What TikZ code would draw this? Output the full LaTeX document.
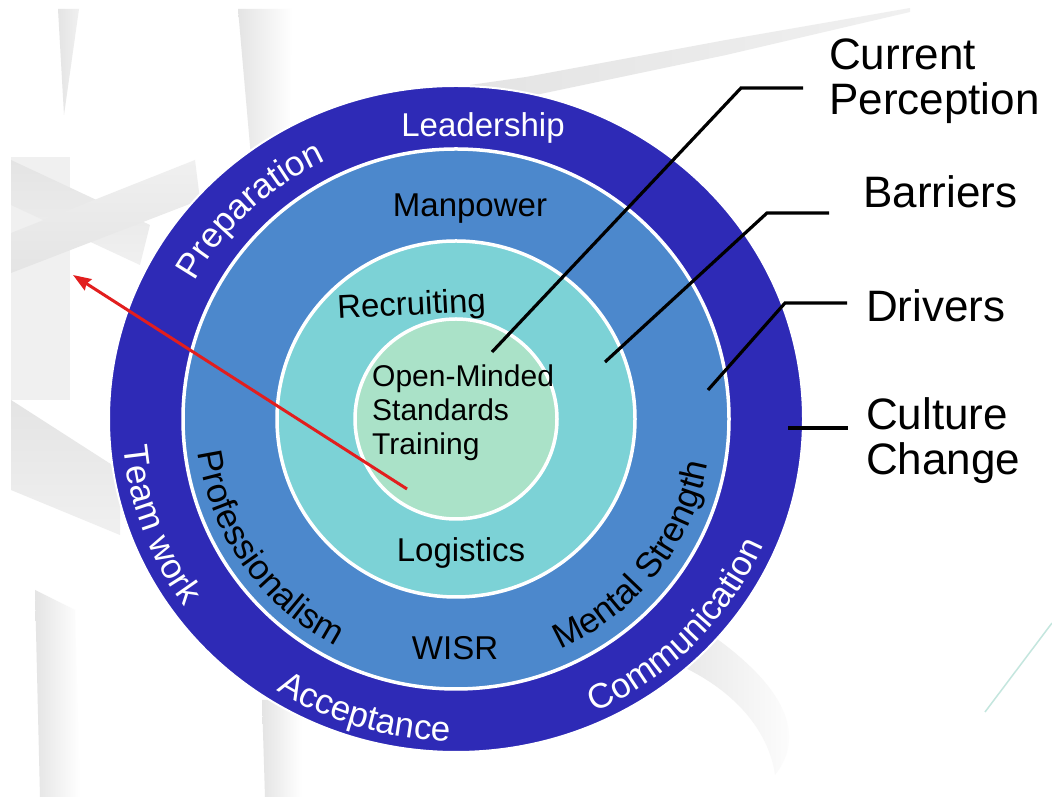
\documentclass[tikz,border=0pt]{standalone}
\usepackage{fontspec}
\setmainfont{Liberation Sans}
\usetikzlibrary{decorations.text,arrows.meta,shapes.geometric}
\definecolor{ringA}{RGB}{46,42,182}
\definecolor{ringB}{RGB}{76,136,204}
\definecolor{ringC}{RGB}{124,210,214}
\definecolor{ringD}{RGB}{170,226,200}
\definecolor{arrowred}{RGB}{226,30,30}
\definecolor{bgA}{RGB}{228,228,228}
\definecolor{bgB}{RGB}{240,240,240}
\definecolor{tealline}{RGB}{196,230,222}
\newcommand\ringfont{\fontsize{33}{33}\selectfont}
\newcommand\arcfont{\fontsize{35}{35}\selectfont}
\newcommand\corefont{\fontsize{30}{34}\selectfont}
\newcommand\sidefont{\fontsize{44}{45}\selectfont}
\begin{document}
\begin{tikzpicture}[x=1pt,y=1pt,
  ringshape/.style={ellipse, draw=white, line width=3.5pt, inner sep=0pt},
  leader/.style={draw=black, line width=3.2pt},
  ringlabel/.style={font=\ringfont, anchor=base, inner sep=0pt},
  corelabel/.style={font=\corefont, anchor=base west, inner sep=0pt},
  sidelabel/.style={font=\sidefont, anchor=base west, inner sep=0pt},
  redarrow/.style={draw=arrowred, line width=3pt, -{Stealth[length=18pt,width=13pt,inset=2pt]}},
  arctext/.style={decorate, decoration={text along path, text align=center, text color=#1}},
]
\useasboundingbox (0,0) rectangle (1052,797);
\fill[white] (0,0) rectangle (1052,797);

% decorative background
\begin{scope}
\clip (11,0) rectangle (1052,788);
\shade[left color=bgA, right color=bgB] (58,788) -- (79,788) -- (64,682) -- cycle;
\shade[left color=bgA, right color=white] (238,788) -- (292,788) -- (287,560) -- (258,560) -- cycle;
\fill[bgB] (11,640) -- (70,640) -- (70,397) -- (11,397) -- cycle;
\shade[top color=bgA, bottom color=bgB] (11,637) -- (11,592) -- (140,532) -- (150,572) -- cycle;
\shade[top color=bgB, bottom color=bgA] (11,564) -- (11,524) -- (200,597) -- (195,637) -- cycle;
\shade[top color=bgA, bottom color=bgB] (11,397) -- (11,307) -- (120,262) -- (120,327) -- cycle;
\shade[left color=bgA, right color=white] (35,207) -- (75,187) -- (80,0) -- (40,0) -- cycle;
\shade[left color=bgA, right color=white] (262,97) -- (302,97) -- (302,0) -- (265,0) -- cycle;
\shade[left color=bgA, right color=bgB] (470,712) -- (526,720) -- (726,757) -- (910,789) -- (910,785) -- (726,742) -- (526,700) -- (470,692) -- cycle;
\shade[left color=bgA, right color=white] (700,170) .. controls (790,110) and (805,60) .. (775,22) .. controls (770,60) and (740,110) .. (660,140) -- cycle;
\end{scope}
\coordinate (tealA) at (985,85);
\coordinate (tealB) at (1052,174);
\draw[tealline, line width=1.5pt] (tealA) -- (tealB);

% rings
\coordinate (c) at (456,378);
\node[ringshape, fill=ringA, line width=2pt, minimum width=694, minimum height=666] (outerring) at (c) {};
\node[ringshape, fill=ringB, minimum width=546, minimum height=540] (secondring) at (c) {};
\node[ringshape, fill=ringC, minimum width=358, minimum height=356] (thirdring) at (c) {};
\node[ringshape, fill=ringD, minimum width=202, minimum height=200] (corering) at (c) {};

% outer ring labels
\node[ringlabel, text=white] (leadership) at (483,660) {Leadership};
\path[arctext=white, decoration={text={|\arcfont|Preparation}}]
  (c) ++(174:298 and 287) arc[start angle=174, end angle=94, x radius=298, y radius=287];
\path[arctext=white, decoration={text={|\arcfont|Team work}}]
  (c) ++(160:334 and 322) arc[start angle=160, end angle=240, x radius=334, y radius=322];
\path[arctext=white, decoration={text={|\arcfont|Acceptance}}]
  (c) ++(213:334 and 322) arc[start angle=213, end angle=293, x radius=334, y radius=322];
\path[arctext=white, decoration={text={|\arcfont|Communication}}]
  (c) ++(276:334 and 322) arc[start angle=276, end angle=356, x radius=334, y radius=322];

% second ring labels
\node[ringlabel] (manpower) at (470,580) {Manpower};
\node[ringlabel] (wisr) at (455,137) {WISR};
\path[arctext=black, decoration={text={|\arcfont|Professionalism}}]
  (c) ++(175:260 and 256) arc[start angle=175, end angle=255, x radius=260, y radius=256];
\path[arctext=black, decoration={text={|\arcfont|Mental Strength}}]
  (c) ++(282:256 and 252) arc[start angle=282, end angle=362, x radius=256, y radius=252];

% third ring labels
\node[ringlabel, rotate=3] (recruiting) at (412,482) {Recruiting};
\node[ringlabel] (logistics) at (461,235) {Logistics};

% core labels
\node[corelabel] (coreA) at (372,410) {Open-Minded};
\node[corelabel] (coreB) at (372,376) {Standards};
\node[corelabel] (coreC) at (372,342) {Training};

% side labels
\node[sidelabel] (current) at (829,727) {Current};
\node[sidelabel] (perception) at (829,682) {Perception};
\node[sidelabel] (barriers) at (863,589) {Barriers};
\node[sidelabel] (drivers) at (866,475) {Drivers};
\node[sidelabel] (culture) at (866,367) {Culture};
\node[sidelabel] (change) at (866,322) {Change};

% leader lines
\coordinate (cpIn) at (492,445);
\coordinate (cpKnee) at (741,709);
\coordinate (cpOut) at (803,709);
\coordinate (baIn) at (605,435);
\coordinate (baKnee) at (767,584);
\coordinate (baOut) at (829,584);
\coordinate (drIn) at (708,407);
\coordinate (drKnee) at (785,494);
\coordinate (drOut) at (847,494);
\coordinate (ccIn) at (788,369);
\coordinate (ccOut) at (848,369);
\draw[leader] (cpIn) -- (cpKnee) -- (cpOut);
\draw[leader] (baIn) -- (baKnee) -- (baOut);
\draw[leader] (drIn) -- (drKnee) -- (drOut);
\draw[leader] (ccIn) -- (ccOut);

% red arrow
\coordinate (arrowFrom) at (407,308);
\coordinate (arrowTo) at (73,522);
\draw[redarrow] (arrowFrom) -- (arrowTo);
\end{tikzpicture}
\end{document}
